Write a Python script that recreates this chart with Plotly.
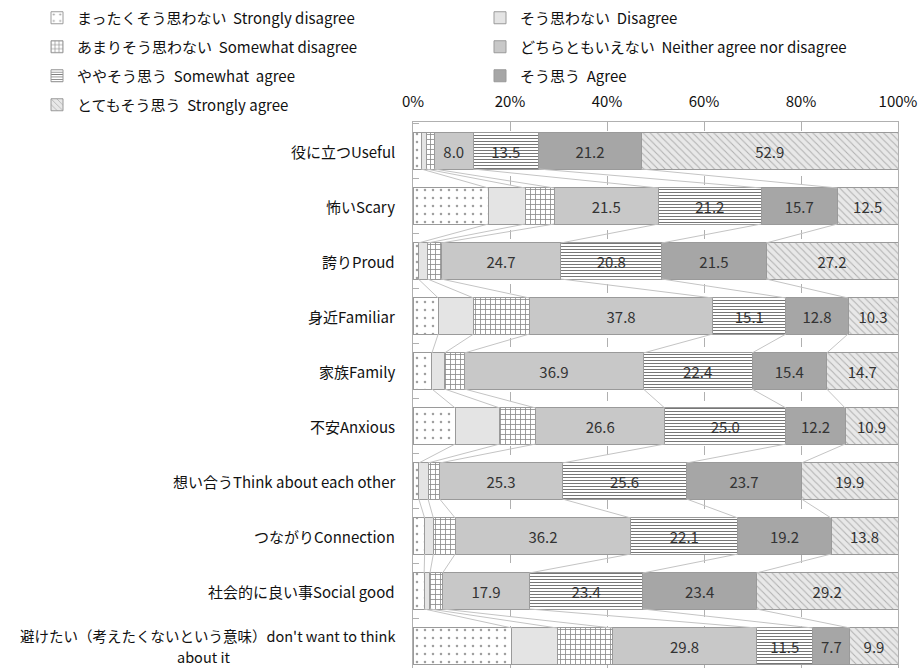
import plotly.graph_objects as go

categories = [
    "役に立つUseful",
    "怖いScary",
    "誇りProud",
    "身近Familiar",
    "家族Family",
    "不安Anxious",
    "想い合うThink about each other",
    "つながりConnection",
    "社会的に良い事Social good",
    "避けたい（考えたくないという意味）don't want to think<br>about it",
]

series_names = [
    "まったくそう思わない\u00a0\u00a0Strongly disagree",
    "そう思わない\u00a0\u00a0Disagree",
    "あまりそう思わない\u00a0\u00a0Somewhat disagree",
    "どちらともいえない\u00a0\u00a0Neither agree nor disagree",
    "ややそう思う\u00a0\u00a0Somewhat\u00a0\u00a0agree",
    "そう思う\u00a0\u00a0Agree",
    "とてもそう思う\u00a0\u00a0Strongly agree",
]

strongly_disagree = [1.7, 15.5, 1.1, 5.2, 3.9, 8.7, 1.2, 2.4, 2.3, 20.4]
disagree = [1.0, 7.6, 1.9, 7.3, 2.6, 9.2, 1.9, 1.8, 1.2, 9.3]
somewhat_disagree = [1.7, 6.0, 2.8, 11.5, 4.1, 7.4, 2.4, 4.5, 2.6, 11.4]
neither = [8.0, 21.5, 24.7, 37.8, 36.9, 26.6, 25.3, 36.2, 17.9, 29.8]
somewhat_agree = [13.5, 21.2, 20.8, 15.1, 22.4, 25.0, 25.6, 22.1, 23.4, 11.5]
agree = [21.2, 15.7, 21.5, 12.8, 15.4, 12.2, 23.7, 19.2, 23.4, 7.7]
strongly_agree = [52.9, 12.5, 27.2, 10.3, 14.7, 10.9, 19.9, 13.8, 29.2, 9.9]

x_tick_values = [0, 20, 40, 60, 80, 100]
x_tick_labels = ["0%", "20%", "40%", "60%", "80%", "100%"]

all_series = [strongly_disagree, disagree, somewhat_disagree, neither,
              somewhat_agree, agree, strongly_agree]
show_text = [False, False, False, True, True, True, True]
fill_colors = ["#ffffff", "#e4e4e4", "#ffffff", "#c8c8c8", "#ffffff", "#a6a6a6", "#e8e8e8"]
pattern_shapes = [".", "", "+", "-", "-", "", "\\"]
pattern_fg = ["#a0a0a0", "#e4e4e4", "#8a8a8a", "#c8c8c8", "#777777", "#a6a6a6", "#b0b0b0"]
pattern_size = [8, 8, 5, 8, 3, 8, 5]
pattern_solid = [0.08, 0.0, 0.3, 0.0, 0.35, 0.0, 0.2]

FONT = "Noto Sans CJK JP"
W, H = 920, 668
ML, MR, MT, MB = 413, 22, 122, 0
PW = W - ML - MR
PH = H - MT - MB

n = len(categories)
ypos = list(range(n))
bar_width = 0.655

fig = go.Figure()

# series lines (connectors between cumulative boundaries of consecutive bars)
cums = []
for i in range(n):
    c = 0
    row = []
    for s in all_series:
        c += s[i]
        row.append(c)
    cums.append(row)

for k in range(len(all_series) - 1):
    xs, ys = [], []
    for i in range(n - 1):
        xs += [cums[i][k], cums[i + 1][k], None]
        ys += [i + bar_width / 2, i + 1 - bar_width / 2, None]
    fig.add_trace(go.Scatter(x=xs, y=ys, mode="lines",
                             line=dict(color="#c4c4c4", width=1),
                             showlegend=False, hoverinfo="skip"))

legend_pos = [(77, 18), (520, 18), (77, 47), (520, 47), (77, 76), (520, 76), (77, 105)]

for j, (name, vals) in enumerate(zip(series_names, all_series)):
    lg = "legend" if j == 0 else f"legend{j + 1}"
    pat = dict(shape=pattern_shapes[j], fgcolor=pattern_fg[j], bgcolor=fill_colors[j],
               size=pattern_size[j], solidity=pattern_solid[j], fillmode="replace")
    fig.add_trace(go.Bar(
        x=vals, y=ypos, orientation="h", name=name, width=bar_width,
        marker=dict(color=fill_colors[j], line=dict(color="#9a9a9a", width=1),
                    pattern=pat),
        text=[f"{v:.1f}" for v in vals] if show_text[j] else None,
        textposition="inside" if show_text[j] else "none",
        insidetextanchor="middle", textangle=0,
        textfont=dict(family=FONT, size=15, color="#333333"),
        constraintext="none",
        legend=lg, showlegend=True, hoverinfo="x+name",
    ))

legends = {}
for j, (px, py) in enumerate(legend_pos):
    key = "legend" if j == 0 else f"legend{j + 1}"
    legends[key] = dict(
        x=(px - 40 - ML) / PW, xanchor="left",
        y=(H - MB - py) / PH, yanchor="middle",
        bgcolor="rgba(0,0,0,0)", borderwidth=0,
        font=dict(family=FONT, size=15, color="#111111"),
        itemclick=False, itemdoubleclick=False,
    )

annotations = []
for i, cat in enumerate(categories):
    lines = cat.split("<br>")
    if len(lines) == 1:
        annotations.append(dict(
            x=0, xref="paper", xshift=-16, xanchor="right",
            y=i, yref="y", yanchor="middle",
            text=cat, showarrow=False,
            font=dict(family=FONT, size=15, color="#111111"),
        ))
    else:
        annotations.append(dict(
            x=0, xref="paper", xshift=-16, xanchor="right",
            y=i, yref="y", yanchor="middle", yshift=11,
            text=lines[0], showarrow=False,
            font=dict(family=FONT, size=14.5, color="#111111"),
        ))
        annotations.append(dict(
            x=(203 - ML) / PW, xref="paper", xanchor="center",
            y=i, yref="y", yanchor="middle", yshift=-10,
            text=lines[1], showarrow=False,
            font=dict(family=FONT, size=14.5, color="#111111"),
        ))

fig.update_layout(
    width=W, height=H,
    margin=dict(l=ML, r=MR, t=MT, b=MB, pad=0),
    barmode="stack",
    plot_bgcolor="white", paper_bgcolor="white",
    font=dict(family=FONT, size=14, color="#111111"),
    annotations=annotations,
    **legends,
)

fig.update_xaxes(
    range=[0, 100], side="top", tickvals=x_tick_values, ticktext=x_tick_labels,
    showgrid=True, gridcolor="#b0b0b0", griddash="dash", gridwidth=1,
    showline=True, linecolor="#b0b0b0", linewidth=1, mirror=True,
    ticks="", ticklabelstandoff=8, zeroline=False,
    tickfont=dict(family=FONT, size=15, color="#111111"),
    fixedrange=True,
)

fig.update_yaxes(
    range=[9 + (H - MB - 646) / 55, -(151 - MT) / 55],
    tickvals=[i + 0.5 for i in range(-1, n)], ticks="inside", ticklen=6,
    tickcolor="#b0b0b0", showticklabels=False, showgrid=False, zeroline=False,
    showline=True, linecolor="#b0b0b0", linewidth=1, mirror=True,
    fixedrange=True,
)

fig.write_html("out.html")
